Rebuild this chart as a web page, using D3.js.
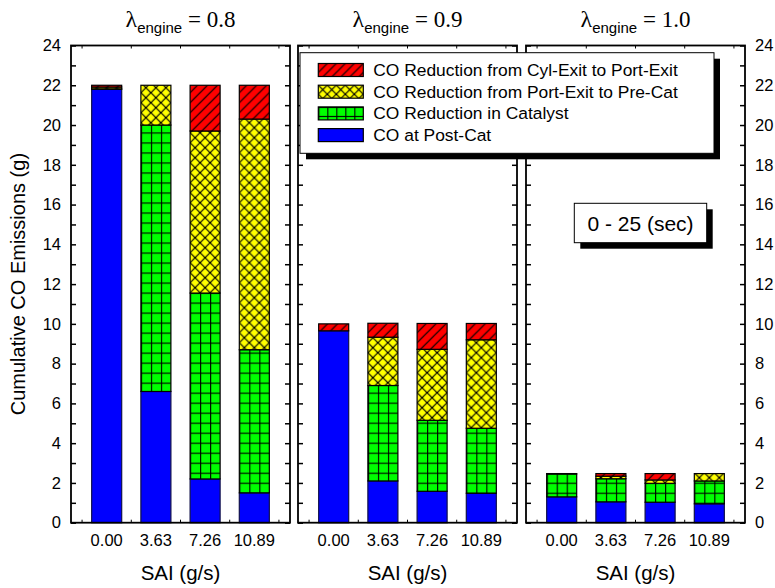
<!DOCTYPE html>
<html>
<head>
<meta charset="utf-8">
<script src="https://cdn.jsdelivr.net/npm/d3@7"></script>
<style>
  html, body { margin: 0; padding: 0; background: #fff; }
  svg { display: block; }
  text { font-family: "Liberation Sans", Arial, sans-serif; fill: #000; }
</style>
</head>
<body>
<svg id="chart" width="775" height="588"></svg>
<script>
// SAI flow rates (x categories) and air/fuel ratio per panel
const saiLabels = ["0.00", "3.63", "7.26", "10.89"];
const lambdaLabels = ["0.8", "0.9", "1.0"];
const yTickLabels = d3.range(0, 25, 2);

// Cumulative CO (g), 0-25 s, per panel: stacked from bottom to top
const postCat08   = [21.8, 6.6, 2.2, 1.5];
const catalyst08  = [0.02, 13.4, 9.35, 7.2];
const portPre08   = [0.09, 2.0, 8.15, 11.6];
const cylPort08   = [0.09, 0.0, 2.3, 1.7];

const postCat09   = [9.65, 2.1, 1.58, 1.48];
const catalyst09  = [0.0, 4.8, 3.57, 3.27];
const portPre09   = [0.0, 2.43, 3.57, 4.45];
const cylPort09   = [0.35, 0.7, 1.3, 0.82];

const postCat10   = [1.3, 1.05, 1.03, 0.95];
const catalyst10  = [1.15, 1.16, 0.95, 1.15];
const portPre10   = [0.0, 0.13, 0.17, 0.37];
const cylPort10   = [0.02, 0.13, 0.32, 0.0];

const seriesKeys = ["postCat", "catalyst", "portPre", "cylPort"];
const seriesNames = {
  cylPort: "CO Reduction from Cyl-Exit to Port-Exit",
  portPre: "CO Reduction from Port-Exit to Pre-Cat",
  catalyst: "CO Reduction in Catalyst",
  postCat: "CO at Post-Cat"
};
const legendOrder = ["cylPort", "portPre", "catalyst", "postCat"];

const panelData = [
  { postCat: postCat08, catalyst: catalyst08, portPre: portPre08, cylPort: cylPort08 },
  { postCat: postCat09, catalyst: catalyst09, portPre: portPre09, cylPort: cylPort09 },
  { postCat: postCat10, catalyst: catalyst10, portPre: portPre10, cylPort: cylPort10 }
];

const svg = d3.select("#chart");
const defs = svg.append("defs");

const panelLefts = [71, 298, 526];
const panelW = 219;
const plotTop = 45.5, plotBottom = 522.7;

const y = d3.scaleLinear().domain([0, 24]).range([plotBottom, plotTop]);

// hatch pattern builders; each pattern is anchored at (ox, oy)
function makePattern(id, kind, ox, oy, cell) {
  const p = defs.append("pattern")
    .attr("id", id)
    .attr("patternUnits", "userSpaceOnUse")
    .attr("x", ox).attr("y", oy)
    .attr("width", cell).attr("height", cell);
  const fills = { postCat: "#0000ff", catalyst: "#00ff00", portPre: "#ffff00", cylPort: "#ff0000" };
  p.append("rect").attr("width", cell).attr("height", cell).attr("fill", fills[kind]);
  const ln = (x1, y1, x2, y2, w) => p.append("line")
    .attr("x1", x1).attr("y1", y1).attr("x2", x2).attr("y2", y2)
    .attr("stroke", "#000").attr("stroke-width", w);
  if (kind === "cylPort") {
    ln(0, cell, cell, 0, 1.2);
    ln(-1, 1, 1, -1, 1.2);
    ln(cell - 1, cell + 1, cell + 1, cell - 1, 1.2);
  } else if (kind === "portPre") {
    ln(0, cell, cell, 0, 1.2);
    ln(0, 0, cell, cell, 1.2);
  } else if (kind === "catalyst") {
    ln(0.5, 0, 0.5, cell, 1.2);
    ln(0, 0.5, cell, 0.5, 1.2);
  }
  return "url(#" + id + ")";
}

panelLefts.forEach((left, pi) => {
  const g = svg.append("g");
  const x = d3.scaleBand().domain(saiLabels)
    .range([left, left + panelW])
    .paddingInner(0.39).paddingOuter(0.42);
  const bw = x.bandwidth();

  const rows = saiLabels.map((s, i) => {
    const r = { sai: s };
    seriesKeys.forEach(k => r[k] = panelData[pi][k][i]);
    return r;
  });
  const stacked = d3.stack().keys(seriesKeys)(rows);

  stacked.forEach(layer => {
    const key = layer.key;
    layer.forEach((d, i) => {
      if (d[1] - d[0] < 0.005) return;
      const bx = x(d.data.sai);
      let fill;
      if (key === "postCat") fill = "#0000ff";
      else {
        const cell = key === "catalyst" ? bw / 3 : 10;
        fill = makePattern("pat-" + pi + "-" + i + "-" + key, key, bx, y(0), cell);
      }
      g.append("rect")
        .attr("x", bx)
        .attr("y", y(d[1]))
        .attr("width", bw)
        .attr("height", y(d[0]) - y(d[1]))
        .attr("fill", fill)
        .attr("stroke", key === "postCat" ? "#10104a" : "#000")
        .attr("stroke-width", 1.2);
    });
  });

  // inward ticks on left and right edges, every unit
  const yMinor = d3.range(0, 25, 1);
  g.append("g").attr("transform", `translate(${left},0)`)
    .call(d3.axisRight(y).tickValues(yMinor).tickSize(5).tickFormat(""))
    .call(a => a.select(".domain").remove())
    .call(a => a.selectAll("line").attr("stroke-width", 1.5));
  g.append("g").attr("transform", `translate(${left + panelW},0)`)
    .call(d3.axisLeft(y).tickValues(yMinor).tickSize(5).tickFormat(""))
    .call(a => a.select(".domain").remove())
    .call(a => a.selectAll("line").attr("stroke-width", 1.5));

  // minor ticks on top and bottom edges at band boundaries
  const step = x.step();
  const bounds = saiLabels.map(s => x(s) + bw / 2 - step / 2)
    .concat([x(saiLabels[saiLabels.length - 1]) + bw / 2 + step / 2]);
  bounds.forEach(bx => {
    g.append("line").attr("x1", bx).attr("x2", bx)
      .attr("y1", plotBottom).attr("y2", plotBottom - 3)
      .attr("stroke", "#000").attr("stroke-width", 1);
    g.append("line").attr("x1", bx).attr("x2", bx)
      .attr("y1", plotTop).attr("y2", plotTop + 3)
      .attr("stroke", "#000").attr("stroke-width", 1);
  });

  // frame
  g.append("rect")
    .attr("x", left).attr("y", plotTop)
    .attr("width", panelW).attr("height", plotBottom - plotTop)
    .attr("fill", "none").attr("stroke", "#000").attr("stroke-width", 1.8);

  // x tick labels
  g.append("g").attr("transform", `translate(0,${plotBottom})`)
    .call(d3.axisBottom(x).tickSize(0).tickPadding(12))
    .call(a => a.select(".domain").remove())
    .call(a => a.selectAll("text")
      .attr("font-size", "16.5px")
      .attr("font-family", "Liberation Sans, Arial, sans-serif")
      .attr("fill", "#000"));

  // x axis title
  g.append("text")
    .attr("x", left + panelW / 2).attr("y", 580)
    .attr("text-anchor", "middle")
    .attr("font-size", "20.5px")
    .text("SAI (g/s)");

  // panel title: lambda_engine = value
  const t = g.append("text")
    .attr("x", left + panelW / 2).attr("y", 27)
    .attr("text-anchor", "middle");
  t.append("tspan").attr("font-family", "Liberation Serif, Times New Roman, serif")
    .attr("font-size", "24px").text("\u03bb");
  t.append("tspan").attr("font-size", "15px").attr("dy", 6).text("engine");
  t.append("tspan").attr("font-family", "Liberation Serif, Times New Roman, serif")
    .attr("font-size", "23px").attr("dy", -6).text(" = " + lambdaLabels[pi]);
});

// left y labels (first panel) and right y labels (last panel)
svg.append("g").attr("transform", `translate(${panelLefts[0]},0)`)
  .call(d3.axisLeft(y).tickValues(yTickLabels).tickSize(0).tickPadding(10).tickFormat(d3.format("d")))
  .call(a => a.select(".domain").remove())
  .call(a => a.selectAll("text").attr("font-size", "16.5px")
    .attr("font-family", "Liberation Sans, Arial, sans-serif").attr("fill", "#000"));
svg.append("g").attr("transform", `translate(${panelLefts[2] + panelW},0)`)
  .call(d3.axisRight(y).tickValues(yTickLabels).tickSize(0).tickPadding(10).tickFormat(d3.format("d")))
  .call(a => a.select(".domain").remove())
  .call(a => a.selectAll("text").attr("font-size", "16.5px")
    .attr("font-family", "Liberation Sans, Arial, sans-serif").attr("fill", "#000"));

// y axis title
svg.append("text")
  .attr("transform", `translate(25,${(plotTop + plotBottom) / 2}) rotate(-90)`)
  .attr("text-anchor", "middle")
  .attr("font-size", "20px")
  .text("Cumulative CO Emissions (g)");

// legend with drop shadow
const lg = svg.append("g");
const lx = 300, ly = 52.7, lw = 414, lh = 100.6;
lg.append("rect").attr("x", lx + 6).attr("y", ly + 6).attr("width", lw).attr("height", lh).attr("fill", "#000");
lg.append("rect").attr("x", lx).attr("y", ly).attr("width", lw).attr("height", lh)
  .attr("fill", "#fff").attr("stroke", "#000").attr("stroke-width", 1);
legendOrder.forEach((k, i) => {
  const cy = 70 + i * 21.7;
  const sx = 318.3, sw = 45, sh = 13;
  let fill = "#0000ff";
  if (k !== "postCat") {
    const cell = k === "catalyst" ? sw / 5 : 9;
    fill = makePattern("leg-" + k, k, sx, cy - sh / 2, cell);
  }
  lg.append("rect").attr("x", sx).attr("y", cy - sh / 2).attr("width", sw).attr("height", sh)
    .attr("fill", fill).attr("stroke", "#000").attr("stroke-width", 1.2);
  lg.append("text").attr("x", 373.3).attr("y", cy + 6)
    .attr("font-size", "17.4px").text(seriesNames[k]);
});

// time window annotation with drop shadow
const bx = 574.3, by = 203.3, bwid = 132.4, bht = 39.4;
svg.append("rect").attr("x", bx + 6).attr("y", by + 6).attr("width", bwid).attr("height", bht).attr("fill", "#000");
svg.append("rect").attr("x", bx).attr("y", by).attr("width", bwid).attr("height", bht)
  .attr("fill", "#fff").attr("stroke", "#000").attr("stroke-width", 1);
svg.append("text").attr("x", bx + bwid / 2).attr("y", by + bht / 2 + 7.5)
  .attr("text-anchor", "middle").attr("font-size", "21px").text("0 - 25 (sec)");
</script>
</body>
</html>
